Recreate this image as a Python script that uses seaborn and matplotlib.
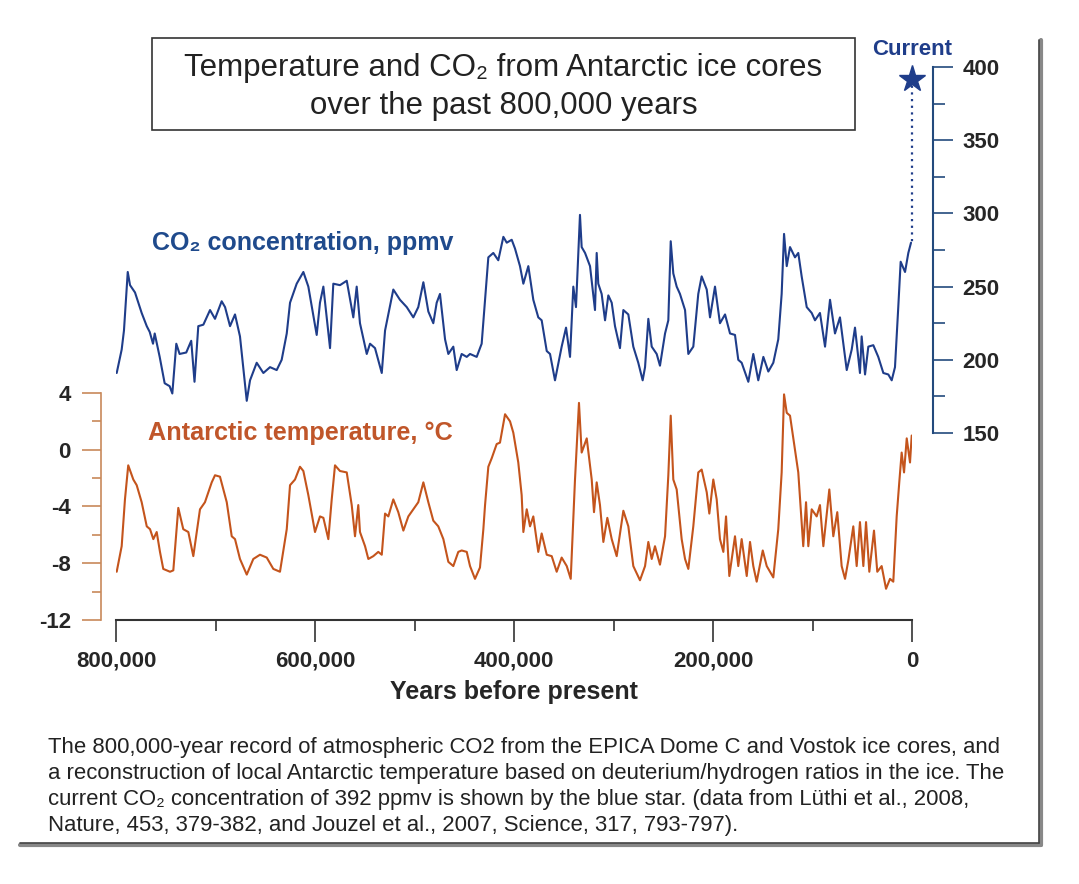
import numpy as np
import pandas as pd
import seaborn as sns
import matplotlib.pyplot as plt
from matplotlib.patches import Rectangle
from matplotlib.lines import Line2D

# data (age in thousands of years before present)
co2_age = [799.3, 794.3, 792.0, 788.2, 785.9, 780.9, 774.2, 769.1, 766.1, 762.8, 761.1, 756.1,
           751.1, 746.1, 743.4, 739.4, 736.1, 729.4, 724.4, 721.1, 717.3, 712.2, 705.5, 700.5,
           693.8, 690.4, 685.4, 680.4, 675.4, 668.6, 665.3, 658.6, 651.9, 645.2, 638.5, 633.5,
           628.4, 625.1, 618.4, 611.7, 606.7, 598.3, 595.0, 591.6, 584.9, 581.6, 574.9, 568.1,
           561.5, 558.1, 554.8, 548.0, 544.7, 539.7, 532.9, 529.6, 521.3, 514.6, 507.8, 501.2,
           496.2, 491.1, 486.1, 481.1, 477.7, 474.4, 469.3, 466.0, 461.0, 457.6, 452.6, 447.5,
           444.2, 437.5, 432.5, 429.1, 425.8, 420.8, 415.8, 410.7, 407.3, 402.3, 399.0, 394.0,
           390.6, 385.6, 380.6, 375.6, 372.2, 367.1, 363.8, 358.8, 352.1, 347.7, 343.7, 340.4,
           337.7, 333.7, 332.0, 328.6, 323.6, 318.6, 316.9, 315.3, 311.9, 308.5, 305.2, 301.8,
           298.5, 293.5, 290.1, 285.1, 280.1, 275.1, 270.7, 268.3, 265.0, 261.6, 256.6, 253.3,
           248.2, 244.9, 242.5, 239.9, 236.5, 233.2, 228.1, 224.8, 219.8, 214.8, 211.4, 206.3,
           203.0, 198.0, 193.0, 187.9, 182.9, 177.9, 174.6, 171.2, 164.5, 159.5, 154.5, 149.4,
           144.4, 139.4, 134.4, 131.0, 128.6, 125.9, 122.6, 117.6, 114.3, 110.9, 105.8, 100.8,
           97.5, 92.5, 87.4, 82.4, 77.4, 72.4, 65.6, 60.6, 57.3, 52.3, 50.6, 47.2,
           43.9, 38.9, 33.9, 28.8, 23.8, 20.4, 17.1, 13.8, 11.4, 7.0, 3.7, 1.0]
co2_ppmv = [191, 207, 220, 260, 251, 246, 232, 223, 219, 211, 218, 202,
            184, 182, 177, 211, 204, 205, 213, 185, 223, 224, 234, 228,
            240, 236, 223, 231, 216, 172, 186, 198, 191, 195, 193, 200,
            218, 239, 252, 260, 250, 217, 239, 250, 208, 252, 251, 254,
            229, 250, 225, 204, 211, 208, 191, 220, 248, 241, 236, 229,
            236, 253, 233, 225, 239, 245, 214, 204, 209, 193, 204, 202,
            204, 202, 211, 241, 270, 273, 268, 284, 280, 282, 276, 264,
            252, 264, 241, 229, 227, 206, 204, 186, 209, 222, 202, 250,
            236, 299, 277, 273, 264, 234, 273, 252, 245, 227, 244, 239,
            223, 208, 234, 231, 209, 198, 186, 195, 228, 209, 204, 196,
            218, 227, 281, 259, 250, 245, 234, 204, 209, 245, 257, 248,
            229, 250, 225, 231, 218, 217, 200, 198, 185, 204, 186, 202,
            192, 198, 214, 245, 286, 264, 277, 270, 273, 257, 236, 232,
            227, 232, 209, 241, 218, 229, 193, 207, 222, 191, 216, 190,
            209, 210, 202, 191, 190, 186, 195, 236, 267, 260, 273, 280]

temp_age = [799.3, 794.3, 791.0, 787.7, 782.6, 779.2, 774.2, 769.1, 765.8, 762.5, 759.1, 755.8,
            752.5, 745.7, 742.4, 737.4, 732.4, 727.3, 722.3, 715.6, 710.6, 703.8, 700.5, 695.5,
            688.7, 683.7, 680.4, 675.4, 668.6, 662.0, 655.3, 648.5, 641.9, 635.2, 628.4, 625.1,
            620.1, 615.1, 611.7, 606.7, 600.0, 595.0, 591.6, 586.6, 583.2, 579.9, 574.9, 568.1,
            563.1, 559.8, 556.5, 554.8, 549.7, 546.4, 541.4, 536.4, 532.9, 529.6, 526.3, 521.3,
            516.3, 511.2, 506.2, 501.2, 496.2, 491.1, 486.1, 481.1, 476.1, 471.0, 466.0, 461.0,
            456.0, 452.6, 447.5, 444.2, 439.2, 434.2, 430.8, 429.1, 425.8, 422.4, 417.4, 414.1,
            409.0, 404.0, 400.7, 395.7, 392.3, 390.6, 387.2, 383.9, 380.6, 375.6, 372.2, 367.1,
            362.1, 357.1, 352.1, 347.0, 343.0, 338.7, 334.7, 332.0, 326.9, 321.9, 319.6, 316.9,
            313.6, 310.2, 306.2, 301.8, 296.8, 290.1, 285.1, 280.1, 273.4, 268.3, 265.0, 261.6,
            258.3, 253.3, 248.2, 244.9, 242.5, 239.9, 236.5, 231.5, 228.1, 224.8, 219.8, 214.8,
            211.4, 206.3, 203.7, 199.7, 196.3, 193.0, 189.6, 186.9, 183.6, 177.9, 174.6, 171.2,
            166.1, 162.8, 159.5, 156.1, 150.0, 146.0, 139.4, 134.4, 131.0, 128.6, 125.9, 122.6,
            119.3, 114.3, 110.9, 109.3, 106.5, 104.2, 100.8, 95.8, 92.5, 89.1, 83.1, 79.1,
            75.1, 70.7, 67.3, 64.0, 59.0, 55.6, 52.3, 48.9, 46.2, 42.9, 38.2, 34.9,
            30.5, 26.1, 22.1, 18.8, 15.4, 12.8, 10.4, 8.0, 5.3, 2.0, 0.3]
temp_c = [-8.6, -6.8, -3.5, -1.1, -2.1, -2.5, -3.7, -5.4, -5.6, -6.3, -5.8, -7.2,
          -8.4, -8.6, -8.5, -4.1, -5.6, -5.8, -7.5, -4.2, -3.7, -2.3, -1.8, -1.9,
          -3.7, -6.1, -6.3, -7.7, -8.8, -7.7, -7.4, -7.6, -8.4, -8.6, -5.6, -2.5,
          -2.1, -1.2, -1.5, -3.2, -5.8, -4.7, -4.8, -6.3, -3.5, -1.1, -1.5, -1.6,
          -3.9, -6.1, -3.9, -5.8, -6.8, -7.7, -7.5, -7.2, -7.4, -4.5, -4.7, -3.5,
          -4.4, -5.7, -4.7, -4.2, -3.7, -2.3, -3.7, -5.0, -5.4, -6.3, -7.9, -8.2,
          -7.2, -7.1, -7.2, -8.2, -9.1, -8.3, -5.6, -3.9, -1.2, -0.6, 0.4, 0.5,
          2.5, 2.0, 1.2, -0.9, -3.2, -5.8, -4.2, -5.4, -4.7, -7.2, -5.9, -7.4,
          -7.5, -8.6, -7.6, -8.2, -9.1, -2.1, 3.3, -0.2, 0.8, -2.1, -4.4, -2.3,
          -3.9, -6.5, -4.8, -6.3, -7.5, -4.3, -5.4, -8.2, -9.2, -8.2, -6.5, -7.7,
          -6.8, -8.1, -6.1, -1.8, 2.4, -2.1, -2.8, -6.3, -7.7, -8.4, -5.4, -1.6,
          -1.4, -3.0, -4.5, -2.1, -3.5, -6.3, -7.2, -4.7, -8.9, -6.1, -8.2, -6.3,
          -8.9, -6.5, -8.2, -9.3, -7.1, -8.2, -9.0, -5.6, -1.6, 3.9, 2.6, 2.4,
          0.8, -1.6, -5.1, -6.8, -3.7, -6.8, -4.2, -4.7, -3.9, -6.8, -2.8, -6.1,
          -4.4, -8.2, -9.1, -7.8, -5.4, -8.2, -5.1, -8.2, -5.1, -8.6, -5.7, -8.6,
          -8.2, -9.8, -9.1, -9.3, -4.7, -2.3, -0.2, -1.6, 0.8, -0.9, 1.0]
current_co2 = 392

x_ticks = [800, 600, 400, 200, 0]
x_tick_labels = ["800,000", "600,000", "400,000", "200,000", "0"]
t_ticks = [-12, -8, -4, 0, 4]
co2_ticks = [150, 200, 250, 300, 350, 400]

co2_df = pd.DataFrame({"age": co2_age, "co2": co2_ppmv})
temp_df = pd.DataFrame({"age": temp_age, "temp": temp_c})

sns.set_theme(style="white")
plt.rcParams["font.family"] = ["Liberation Sans", "DejaVu Sans"]

blue = "#1f3d8a"
orange = "#c4541c"
tan = "#c8895a"
navy = "#234a7d"

fig = plt.figure(figsize=(10.79, 8.84), dpi=100)
ax = fig.add_axes([0.10751, 0.29864, 0.73772, 0.62557])
ax2 = ax.twinx()

sns.lineplot(data=temp_df, x="age", y="temp", ax=ax, color=orange, lw=1.5, estimator=None)
sns.lineplot(data=co2_df, x="age", y="co2", ax=ax2, color=blue, lw=1.5, estimator=None)

ax.set_xlim(800, 0)
ax.set_ylim(-12, 26.97)
ax2.set_ylim(22.3, 400)

# spines first (moving a spine resets the ticks)
ax.spines["left"].set_position(("outward", 10.8))
ax.spines["left"].set_bounds(-12, 4)
ax.spines["left"].set_color(tan)
ax.spines["left"].set_linewidth(1.2)
ax.spines["bottom"].set_color("#333333")
ax.spines["bottom"].set_linewidth(1.5)
ax.spines["top"].set_visible(False)
ax.spines["right"].set_visible(False)
ax2.spines["right"].set_position(("outward", 15.1))
ax2.spines["right"].set_bounds(150, 400)
ax2.spines["right"].set_color(navy)
ax2.spines["right"].set_linewidth(1.5)
for s in ["top", "left", "bottom"]:
    ax2.spines[s].set_visible(False)

# current CO2 star + dotted link
ax2.plot([0, 0], [current_co2, co2_ppmv[-1]], color=blue, lw=1.6, ls=(0, (1, 2)), clip_on=False)
ax2.plot([0], [current_co2], marker="*", ms=20, color=blue, mec=blue, clip_on=False)
ax2.annotate("Current", xy=(0, current_co2), xytext=(0, 13.5), textcoords="offset points",
             ha="center", va="bottom", color=blue, fontsize=16, fontweight="bold")

# x axis
ax.set_xticks(x_ticks, x_tick_labels, fontweight="bold", fontsize=16)
ax.set_xticks([700, 500, 300, 100], minor=True)
ax.tick_params(axis="x", which="major", bottom=True, direction="out", length=15.8, width=1.2,
               color="#333333", pad=6.5)
ax.tick_params(axis="x", which="minor", bottom=True, direction="out", length=8, width=1.2,
               color="#333333")
ax.set_xlabel("Years before present", fontsize=18, fontweight="bold")
ax.xaxis.set_label_coords(0.5, -0.108)
ax.set_ylabel("")

# left (temperature) axis
ax.set_yticks(t_ticks, [str(t) for t in t_ticks], fontweight="bold", fontsize=16)
ax.set_yticks([-10, -6, -2, 2], minor=True)
ax.tick_params(axis="y", which="major", left=True, direction="out", length=13.7, width=1.2,
               color=tan, pad=8)
ax.tick_params(axis="y", which="minor", left=True, direction="out", length=6.5, width=1.2,
               color=tan)

# right (CO2) axis
ax2.set_yticks(co2_ticks, [str(c) for c in co2_ticks], fontweight="bold", fontsize=16)
ax2.set_yticks([175, 225, 275, 325, 375], minor=True)
ax2.tick_params(axis="y", which="major", right=True, direction="out", length=14.4, width=1.2,
                color=navy, pad=7)
ax2.tick_params(axis="y", which="minor", right=True, direction="out", length=8.4, width=1.2,
                color=navy)
ax2.set_ylabel("")

# series labels
fig.text(0.1409, 0.7251, "CO₂ concentration, ppmv", color="#1f4a8c", fontsize=18,
         fontweight="bold", va="center", ha="left")
fig.text(0.1372, 0.5102, "Antarctic temperature, °C", color="#c0562a", fontsize=18.2,
         fontweight="bold", va="center", ha="left")

# title box
fig.patches.append(Rectangle((0.1409, 0.8529), 0.6515, 0.1041, transform=fig.transFigure,
                             fill=False, edgecolor="#333333", lw=1.2))
fig.text(0.4666, 0.9015, "Temperature and CO₂ from Antarctic ice cores\nover the past 800,000 years",
         ha="center", va="center", fontsize=22.5, color="#222222", linespacing=1.35)

# caption
caption = ("The 800,000-year record of atmospheric CO2 from the EPICA Dome C and Vostok ice cores, and\n"
           "a reconstruction of local Antarctic temperature based on deuterium/hydrogen ratios in the ice. The\n"
           "current CO₂ concentration of 392 ppmv is shown by the blue star. (data from Lüthi et al., 2008,\n"
           "Nature, 453, 379-382, and Jouzel et al., 2007, Science, 317, 793-797).")
fig.text(0.0445, 0.166, caption, ha="left", va="top", fontsize=15.9, color="#222222",
         linespacing=1.31)

# page shadow border
fig.lines.append(Line2D([1041 / 1079, 1041 / 1079], [1 - 40 / 884, 1 - 845 / 884],
                        transform=fig.transFigure, color="#888888", lw=3))
fig.lines.append(Line2D([20 / 1079, 1041 / 1079], [1 - 845 / 884, 1 - 845 / 884],
                        transform=fig.transFigure, color="#888888", lw=3))
fig.lines.append(Line2D([1039 / 1079, 1039 / 1079], [1 - 40 / 884, 1 - 843 / 884],
                        transform=fig.transFigure, color="#444444", lw=1.2))
fig.lines.append(Line2D([20 / 1079, 1039 / 1079], [1 - 843 / 884, 1 - 843 / 884],
                        transform=fig.transFigure, color="#444444", lw=1.2))

fig.savefig("out.png", dpi=100, facecolor="white")
